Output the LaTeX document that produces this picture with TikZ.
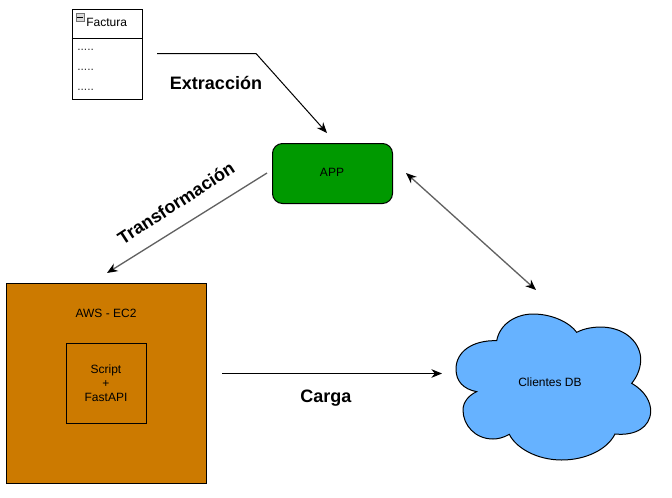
\documentclass[tikz,border=0pt]{standalone}
\usepackage{fontspec}
\setmainfont{Liberation Sans}
\usetikzlibrary{arrows.meta}
\definecolor{appgreen}{HTML}{009900}
\definecolor{awsorange}{HTML}{CC7A00}
\definecolor{cloudblue}{HTML}{66B2FF}
\tikzset{
  box/.style={draw=black,line width=0.75pt,inner sep=0pt,anchor=north west},
  small/.style={font=\fontsize{9}{12}\selectfont,text=black,align=center},
  dots/.style={font=\fontsize{9}{9}\selectfont,anchor=west,inner sep=0pt,text=black!80},
  heading/.style={font=\bfseries\fontsize{13.5}{15}\selectfont,text=black},
  tip/.style={Stealth[length=8pt,width=6.5pt]},
  conn/.style={line width=0.75pt,-{Stealth[length=8pt,width=6.5pt]}},
  grayconn/.style={line width=1pt,draw=black!62},
}
\begin{document}
\begin{tikzpicture}[x=0.75pt,y=-0.75pt]
\useasboundingbox (0,0) rectangle (672,497);
% Factura table
\node[box,minimum width=52.5pt,minimum height=67.5pt] (factura) at (71.5,8.5) {};
\coordinate (sepL) at (71.5,38.5);
\coordinate (sepR) at (141.5,38.5);
\draw[line width=0.75pt] (sepL) -- (sepR);
\node[draw=black!55,fill=black!15,line width=0.6pt,minimum size=6.2pt,inner sep=0pt] (collapse) at (80.5,17.5) {};
\draw[line width=0.6pt] (collapse.west) ++(1pt,0) -- ++(4.2pt,0);
\node[small,anchor=west,inner sep=0pt] (ftitle) at (86,22.5) {Factura};
\node[dots] (d1) at (77,49.5) {.....};
\node[dots] (d2) at (77,69.5) {.....};
\node[dots] (d3) at (77,89.5) {.....};
% APP
\node[box,fill=appgreen,rounded corners=7.5pt,minimum width=90pt,minimum height=45pt] (app) at (272,143) {};
\node[small] (applabel) at (332,172.5) {APP};
% AWS
\node[box,fill=awsorange,minimum width=150pt,minimum height=150pt] (aws) at (6,283) {};
\node[small] (awslabel) at (106,313) {AWS - EC2};
\node[box,minimum width=60pt,minimum height=60pt] (script) at (66,343) {};
\node[small] (scriptlabel) at (106,383) {Script\\[-1.5pt]+\\[-1.5pt]FastAPI};
% Cloud
\draw[fill=cloudblue,draw=black,line width=0.75pt]
  (496.7,340.7)
  .. controls (500,323) and (517,314) .. (533,314)
  .. controls (553,314) and (570,323) .. (576.7,332.3)
  .. controls (585,328) and (594,327) .. (602,327)
  .. controls (628,328) and (641,345) .. (640.7,360)
  .. controls (640.5,370) and (636,378) .. (631.7,383.3)
  .. controls (645,391) and (651,402) .. (650.7,411.7)
  .. controls (650,427) and (636,436) .. (615,434)
  .. controls (607,450) and (585,460) .. (561.7,460)
  .. controls (537,460) and (516,448) .. (509.3,434.3)
  .. controls (503,438) and (497,439) .. (493,439)
  .. controls (475,439) and (463,425) .. (463,410)
  .. controls (463,402) and (469,395) .. (476.7,391.7)
  .. controls (463,389) and (456,381) .. (456,369)
  .. controls (456,352) and (472,340) .. (496.7,340.7)
  -- cycle;
\node[small] (cloudlabel) at (550,382.5) {Clientes DB};
% Connector ends
\coordinate (f1) at (157,53.5);
\coordinate (f2) at (256,53.5);
\coordinate (a1) at (327,133);
\coordinate (t1) at (267,173);
\coordinate (t2) at (107,273);
\coordinate (b1) at (406,173);
\coordinate (b2) at (536,290);
\coordinate (c1) at (222,373.5);
\coordinate (c2) at (442,373.5);
\draw[conn] (f1) -- (f2) -- (a1);
\draw[grayconn,-{Stealth[length=8pt,width=6.5pt,black]}] (t1) -- (t2);
\draw[grayconn,{Stealth[length=8pt,width=6.5pt,black]}-{Stealth[length=8pt,width=6.5pt,black]}] (b1) -- (b2);
\draw[conn] (c1) -- (c2);
% Labels
\node[heading] (lext) at (216,83) {Extracción};
\node[heading,rotate=33] (ltra) at (176,203) {Transformación};
\node[heading] (lcar) at (326,398) {Carga};
\end{tikzpicture}
\end{document}
